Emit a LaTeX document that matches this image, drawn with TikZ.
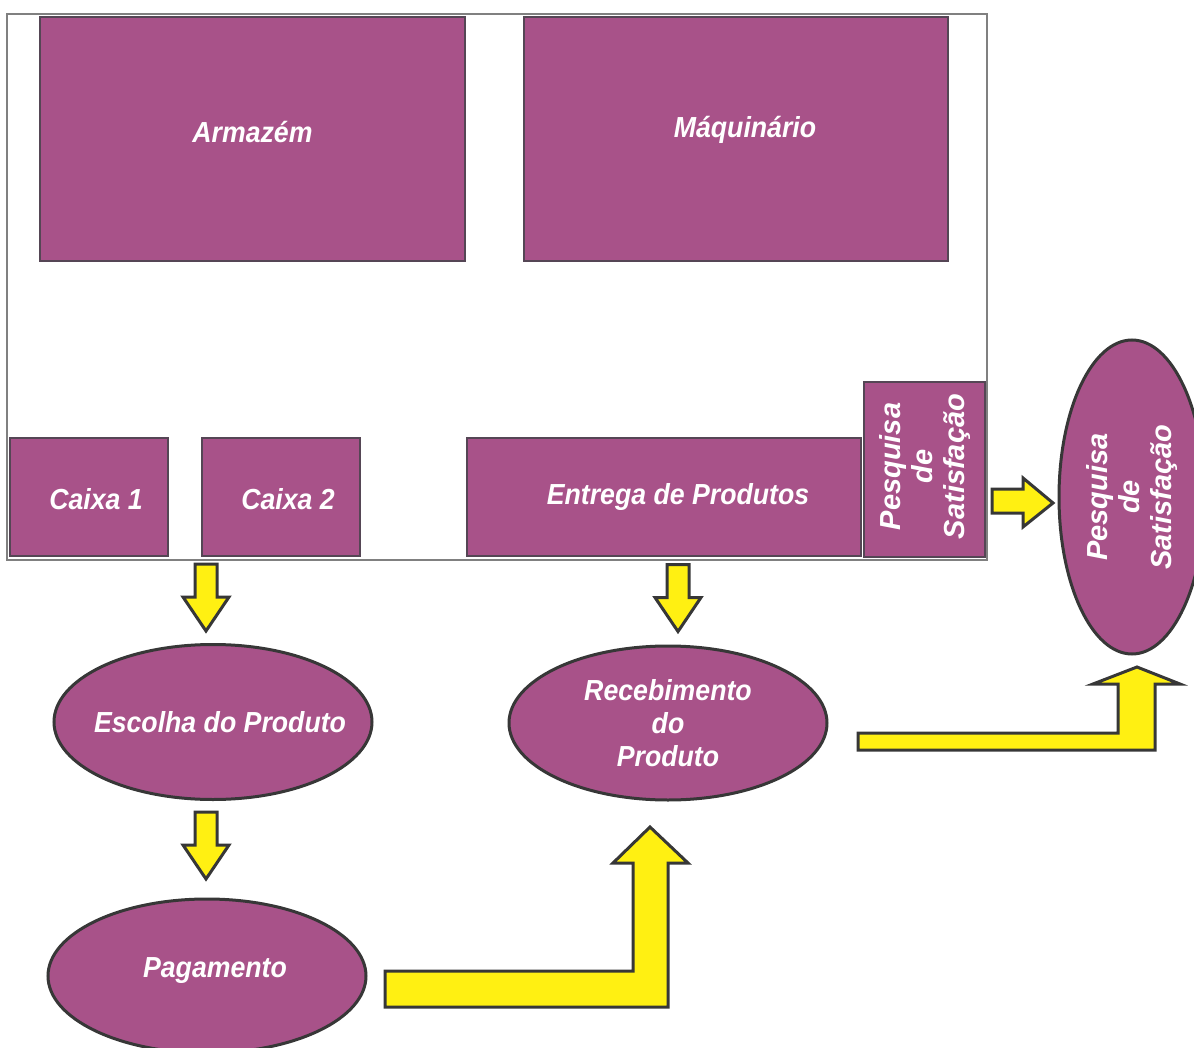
\documentclass[tikz,border=0pt]{standalone}
\usepackage{fontspec}
\setmainfont{Liberation Sans}
\newfontfamily\narrowfont{Liberation Sans}[FakeStretch=0.92]
\usetikzlibrary{shapes.geometric,calc}

\definecolor{plum}{RGB}{168,82,137}
\definecolor{plumline}{RGB}{85,70,85}
\definecolor{arrowfill}{RGB}{255,240,18}
\definecolor{darkline}{RGB}{55,55,55}

\tikzset{
	area/.style={draw=plumline, line width=0.75pt, fill=plum, inner sep=0pt},
	oval/.style={ellipse, draw=darkline, line width=1.5pt, fill=plum, inner sep=0pt},
	caption/.style={text=white, align=center, font=\narrowfont\fontsize{14.5}{16.5}\selectfont\bfseries\itshape},
	sidecaption/.style={text=white, align=center, rotate=90, font=\fontsize{14.5}{16}\selectfont\bfseries\itshape},
	blockarrow/.style={draw=darkline, fill=arrowfill, line width=1.5pt, line join=miter},
	pics/downarrow/.style={code={
		\draw[blockarrow] (-11,0) -- (11,0) -- (11,33) -- (23,33) -- (0,67) -- (-23,33) -- (-11,33) -- cycle;}}
}

\begin{document}
\begin{tikzpicture}[x=0.5pt, y=-0.5pt]
\useasboundingbox (0,0) rectangle (1194,1048);

% store
\draw[gray, line width=1pt] (7,14) rectangle (987,560);

\node[area, minimum width=212.5pt, minimum height=122pt,
	label={[caption, yshift=3.5pt]center:Armazém}] (armazem) at (252.5,139) {};
\node[area, minimum width=212pt, minimum height=122pt,
	label={[caption, xshift=4.5pt, yshift=4.5pt]center:Máquinário}] (maquinario) at (736,139) {};
\node[area, minimum width=79pt, minimum height=59pt,
	label={[caption, xshift=3.5pt, yshift=-1pt]center:Caixa 1}] (caixa1) at (89,497) {};
\node[area, minimum width=79pt, minimum height=59pt,
	label={[caption, xshift=3.5pt, yshift=-1pt]center:Caixa 2}] (caixa2) at (281,497) {};
\node[area, minimum width=197pt, minimum height=59pt,
	label={[caption, xshift=7pt]center:Entrega de Produtos}] (entrega) at (664,497) {};
\node[area, minimum width=60.5pt, minimum height=87.5pt,
	label={[sidecaption, xshift=1.5pt]center:Pesquisa\\de\\Satisfação}] (pesbox) at (924.5,469.5) {};

% steps
\node[oval, minimum width=159pt, minimum height=77.5pt,
	label={[caption, xshift=3.5pt]center:Escolha do Produto}] (escolha) at (213,722) {};
\node[oval, minimum width=159pt, minimum height=77pt,
	label={[caption]center:Recebimento\\do\\Produto}] (recebimento) at (668,723) {};
\node[oval, minimum width=159pt, minimum height=77pt,
	label={[caption, xshift=4pt, yshift=2.5pt]center:Pagamento}] (pagamento) at (207,976) {};
\node[oval, minimum width=73pt, minimum height=157pt,
	label={[sidecaption]center:Pesquisa\\de\\Satisfação}] (pesquisa) at (1132,497) {};

% arrows
\pic at ($(escolha.north)+(-7,-79)$) {downarrow};
\pic at ($(recebimento.north)+(10,-80)$) {downarrow};
\pic at ($(escolha.south)+(-7,11)$) {downarrow};

\draw[blockarrow] (992,489) -- (1023,489) -- (1023,478) -- (1053,503) -- (1023,527) -- (1023,513) -- (992,513) -- cycle;
\draw[blockarrow] (385,971) -- (633,971) -- (633,863) -- (613,863) -- (650,827) -- (688,863) -- (668,863) -- (668,1007) -- (385,1007) -- cycle;
\draw[blockarrow] (858,733) -- (1118,733) -- (1118,684) -- (1093,684) -- (1137,667) -- (1180,684) -- (1155,684) -- (1155,750) -- (858,750) -- cycle;
\end{tikzpicture}
\end{document}
